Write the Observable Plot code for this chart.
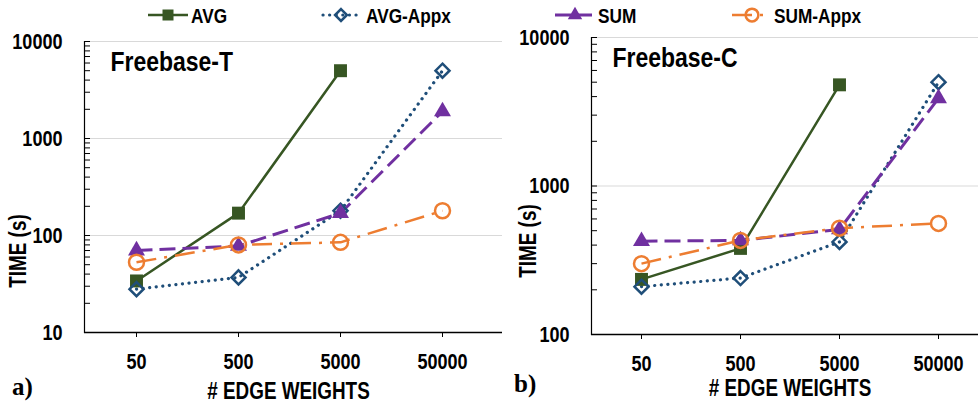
<!DOCTYPE html>
<html><head><meta charset="utf-8">
<script src="https://cdn.jsdelivr.net/npm/d3@7"></script>
<script src="https://cdn.jsdelivr.net/npm/@observablehq/plot@0.6"></script>
<style>
body{margin:0;background:#fff;}
#wrap{position:relative;width:978px;height:408px;overflow:hidden;background:#fff;font-family:"Liberation Sans","Arial",sans-serif;font-weight:bold;}
.panel{position:absolute;top:0;}
.tag{position:absolute;font-family:"Liberation Serif","Times New Roman",serif;font-weight:bold;font-size:25px;line-height:1;color:#000;}
#legend{position:absolute;left:0;top:0;}
</style></head>
<body><div id="wrap"></div>
<script>
// ---------- data ----------
const cats = ["50", "500", "5000", "50000"];
const seriesNames = ["AVG", "AVG-Appx", "SUM", "SUM-Appx"];
// Freebase-T (panel a)
const tAVG     = [34, 170, 5000, null];
const tAVGAppx = [28, 37, 180, 5000];
const tSUM     = [70, 78, 170, 1900];
const tSUMAppx = [53, 80, 85, 180];
// Freebase-C (panel b)
const cAVG     = [235, 380, 4800, null];
const cAVGAppx = [210, 240, 420, 5000];
const cSUM     = [425, 430, 510, 3900];
const cSUMAppx = [300, 430, 520, 560];
const yTicksA = [10, 100, 1000, 10000];
const yTicksB = [100, 1000, 10000];

// ---------- styles ----------
const FONT = '"Liberation Sans","Arial",sans-serif';
const NARROW = 0.82; // emulate Arial Narrow Bold
const sty = {
  "AVG":      {stroke:"#375623", sw:2.5, dash:null,       cap:"butt",  symbol:"square",   fill:"#375623", r:7.3, msw:0},
  "AVG-Appx": {stroke:"#1F4E79", sw:3.2, dash:"0.1 6.5",  cap:"round", symbol:"diamond2", fill:"none",    r:6.3, msw:2.5},
  "SUM":      {stroke:"#7030A0", sw:3,   dash:"16 7",     cap:"butt",  symbol:"triangle", fill:"#7030A0", r:6.3, msw:0},
  "SUM-Appx": {stroke:"#ED7D31", sw:2.5, dash:"20 8 3 8", cap:"butt",  symbol:"circle",   fill:"none",    r:7.5, msw:2.5}
};

function rowsOf(valueLists) {
  const rows = [];
  seriesNames.forEach((s, k) => valueLists[k].forEach((v, i) => { if (v != null) rows.push({series: s, cat: cats[i], v}); }));
  return rows;
}

function minorTicks(lo, hi) {
  const t = [];
  for (let d = lo; d < hi; d *= 10) for (let m = 1; m < 10; m++) t.push(d * m);
  t.push(hi);
  return t;
}

function panel({rows, yDomain, yTicks, title, width, height, mL, mT, mB, xRange, titleDx, ylab, xlab}) {
  const marks = [];
  marks.push(Plot.ruleY(yTicks.slice(1), {stroke:"#d9d9d9", strokeWidth:1}));
  for (const s of seriesNames) {
    const st = sty[s];
    const d = rows.filter(r => r.series === s);
    marks.push(Plot.line(d, {x:"cat", y:"v", stroke:st.stroke, strokeWidth:st.sw, strokeDasharray:st.dash, strokeLinecap:st.cap}));
  }
  for (const s of seriesNames) {
    const st = sty[s];
    const d = rows.filter(r => r.series === s);
    marks.push(Plot.dot(d, {x:"cat", y:"v", symbol:st.symbol, r:st.r, fill:st.fill, stroke: st.msw ? st.stroke : "none", strokeWidth:st.msw}));
  }
  marks.push(
    Plot.axisY(minorTicks(yDomain[0], yDomain[1]), {tickSize:-6, tickFormat:() => "", label:null, stroke:"#000"}),
    Plot.axisY(yTicks, {tickSize:0, tickPadding:22, fontSize:22, fontWeight:"bold", tickFormat:d3.format("d"), label:null, fill:"#000"}),
    Plot.axisX({tickSize:5, tickPadding:16, fontSize:22, fontWeight:"bold", label:null, fill:"#000"}),
    Plot.frame({anchor:"left", stroke:"#000", strokeWidth:1.2}),
    Plot.ruleY([yDomain[0]], {stroke:"#000", strokeWidth:1.5}),
    Plot.text([title], {frameAnchor:"top-left", dx:titleDx, dy:10, lineAnchor:"top", textAnchor:"start", fontSize:28, fontWeight:"bold", fill:"#000"}),
    Plot.text(["TIME (s)"], {frameAnchor:"left", dx:ylab[0], dy:ylab[1], rotate:-90, textAnchor:"middle", lineAnchor:"middle", fontSize:23, fontWeight:"bold", fill:"#000"}),
    Plot.text(["# EDGE WEIGHTS"], {frameAnchor:"bottom", dx:xlab[0], dy:xlab[1], textAnchor:"middle", lineAnchor:"middle", fontSize:23, fontWeight:"bold", fill:"#000"})
  );
  return Plot.plot({
    width, height, marginLeft:mL, marginRight:0, marginTop:mT, marginBottom:mB,
    style:`background:transparent;overflow:visible;font-family:${FONT};color:#000;`,
    x:{type:"point", domain:cats, range:xRange, padding:0, axis:null},
    y:{type:"log", domain:yDomain, axis:null},
    marks
  });
}

function squeeze(root) {
  root.querySelectorAll("text").forEach(t => {
    const L = t.getComputedTextLength();
    if (L > 0) { t.setAttribute("textLength", (L * NARROW).toFixed(2)); t.setAttribute("lengthAdjust", "spacingAndGlyphs"); }
  });
}

const wrap = document.getElementById("wrap");

const pa = panel({
  rows: rowsOf([tAVG, tAVGAppx, tSUM, tSUMAppx]), yDomain:[10, 10000], yTicks:yTicksA,
  title:"Freebase-T", width:502, height:408, mL:84, mT:41, mB:76, xRange:[135, 442],
  titleDx:26, ylab:[-66, 64], xlab:[-5, 59]
});
pa.classList.add("panel"); pa.style.left = "0px"; wrap.appendChild(pa);

const pb = panel({
  rows: rowsOf([cAVG, cAVGAppx, cSUM, cSUMAppx]), yDomain:[100, 10000], yTicks:yTicksB,
  title:"Freebase-C", width:489, height:408, mL:102, mT:37, mB:74, xRange:[152, 449],
  titleDx:21, ylab:[-63, 55], xlab:[5, 54]
});
pb.classList.add("panel"); pb.style.left = "489px"; wrap.appendChild(pb);

// panel tags
for (const [t, x, y] of [["a)", 12, 374], ["b)", 514, 371]]) {
  const d = document.createElement("div"); d.className = "tag"; d.textContent = t;
  d.style.left = x + "px"; d.style.top = y + "px"; wrap.appendChild(d);
}

// legend
const legendLayout = [
  {x1:148, x2:188, mx:168, tx:191},
  {x1:323, x2:361, mx:341, tx:366},
  {x1:555, x2:592, mx:575, tx:598},
  {x1:732, x2:770, mx:752, tx:774}
];
const lg = d3.select(wrap).append("svg").attr("id","legend").attr("width",978).attr("height",32)
  .style("font-family", FONT).style("font-weight","bold");
seriesNames.forEach((s, i) => {
  const st = sty[s], L = legendLayout[i], cy = 15;
  lg.append("line").attr("x1",L.x1).attr("x2",L.x2).attr("y1",cy).attr("y2",cy)
    .attr("stroke",st.stroke).attr("stroke-width",st.sw).attr("stroke-dasharray",st.dash).attr("stroke-linecap",st.cap);
  const sym = {square:d3.symbolSquare, diamond2:d3.symbolDiamond2, triangle:d3.symbolTriangle, circle:d3.symbolCircle}[st.symbol];
  const rr = st.r * 0.85;
  lg.append("path").attr("transform",`translate(${L.mx},${cy})`).attr("d", d3.symbol(sym, rr*rr*Math.PI)())
    .attr("fill", st.fill).attr("stroke", st.msw ? st.stroke : "none").attr("stroke-width", st.msw);
  lg.append("text").attr("x",L.tx).attr("y",cy).attr("dy","0.36em").attr("font-size",21).attr("fill","#000").text(s);
});

squeeze(pa); squeeze(pb); squeeze(lg.node());
</script>
</body></html>
